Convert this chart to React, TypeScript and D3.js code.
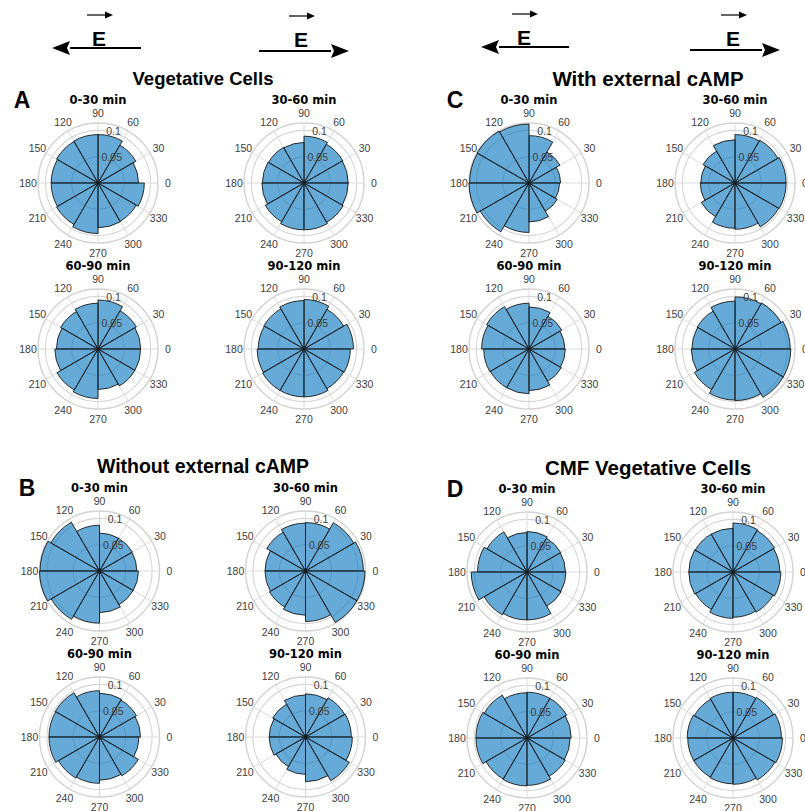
import React from 'react';
import * as d3 from 'd3';

// 12 bins of 30 deg, counter-clockwise from 0 deg
const angleTicks = [0, 30, 60, 90, 120, 150, 180, 210, 240, 270, 300, 330];
const rTicks = [0.05, 0.1];
const rMax = 0.114;
const intervals = ['0-30 min', '30-60 min', '60-90 min', '90-120 min'];

const vegetative = [
  [0.077, 0.083, 0.092, 0.092, 0.091, 0.089, 0.089, 0.091, 0.096, 0.085, 0.084, 0.088],
  [0.084, 0.085, 0.089, 0.077, 0.078, 0.079, 0.080, 0.085, 0.089, 0.089, 0.086, 0.084],
  [0.081, 0.084, 0.093, 0.087, 0.082, 0.079, 0.082, 0.090, 0.094, 0.077, 0.081, 0.081],
  [0.094, 0.087, 0.094, 0.092, 0.088, 0.087, 0.089, 0.091, 0.091, 0.091, 0.087, 0.088],
];

const withCamp = [
  [0.060, 0.068, 0.090, 0.112, 0.114, 0.113, 0.114, 0.107, 0.094, 0.074, 0.062, 0.058],
  [0.097, 0.094, 0.092, 0.082, 0.070, 0.065, 0.066, 0.074, 0.086, 0.088, 0.096, 0.097],
  [0.068, 0.072, 0.080, 0.087, 0.093, 0.090, 0.086, 0.085, 0.085, 0.079, 0.071, 0.069],
  [0.105, 0.101, 0.099, 0.091, 0.083, 0.082, 0.083, 0.089, 0.097, 0.098, 0.106, 0.106],
];

const withoutCamp = [
  [0.071, 0.072, 0.072, 0.087, 0.107, 0.113, 0.114, 0.106, 0.099, 0.079, 0.074, 0.074],
  [0.110, 0.106, 0.092, 0.091, 0.085, 0.077, 0.077, 0.079, 0.084, 0.096, 0.113, 0.113],
  [0.078, 0.081, 0.083, 0.088, 0.097, 0.096, 0.096, 0.090, 0.088, 0.082, 0.085, 0.075],
  [0.087, 0.086, 0.082, 0.080, 0.072, 0.069, 0.069, 0.065, 0.071, 0.085, 0.096, 0.089],
];

const cmfVegetative = [
  [0.073, 0.074, 0.077, 0.075, 0.088, 0.094, 0.106, 0.094, 0.091, 0.091, 0.075, 0.074],
  [0.089, 0.091, 0.093, 0.083, 0.083, 0.084, 0.084, 0.082, 0.088, 0.086, 0.088, 0.091],
  [0.084, 0.087, 0.087, 0.086, 0.094, 0.097, 0.097, 0.090, 0.091, 0.090, 0.084, 0.082],
  [0.092, 0.089, 0.087, 0.087, 0.085, 0.087, 0.086, 0.086, 0.087, 0.088, 0.092, 0.094],
];

const groups = [
  { title: 'Vegetative Cells', letter: 'A', data: vegetative, x: 98, y: 183, lx: 22, tx: 203, fs: 18.5 },
  { title: 'With external cAMP', letter: 'C', data: withCamp, x: 529, y: 183, lx: 455, tx: 648, fs: 20.5 },
  { title: 'Without external cAMP', letter: 'B', data: withoutCamp, x: 99.5, y: 571, lx: 27, tx: 203, fs: 19.5 },
  { title: 'CMF Vegetative Cells', letter: 'D', data: cmfVegetative, x: 527, y: 572, lx: 455, tx: 648, fs: 20.5 },
];

const r = d3.scaleLinear().domain([0, rMax]).range([0, 60]);
const arc = d3.arc<any>();
const rad = (deg: number) => (deg * Math.PI) / 180;

const tickFont = '"Liberation Sans", Arial, sans-serif';

function Rose({ cx, cy, values, title }: { cx: number; cy: number; values: number[]; title: string }) {
  const outer = r(rMax);
  return (
    <g transform={`translate(${cx},${cy})`}>
      <text
        y={-83}
        textAnchor="middle"
        dominantBaseline="central"
        fontFamily='"DejaVu Sans", sans-serif'
        fontWeight="bold"
        fontSize={11.5}
        fill="#000"
      >
        {title}
      </text>
      {angleTicks.map(a => (
        <line
          key={'g' + a}
          x1={0}
          y1={0}
          x2={outer * Math.cos(rad(a))}
          y2={-outer * Math.sin(rad(a))}
          stroke="#dcdcdc"
          strokeWidth={1}
        />
      ))}
      {rTicks.map(t => (
        <circle key={'c' + t} r={r(t)} fill="none" stroke="#d6d6d6" strokeWidth={1.1} />
      ))}
      <circle r={outer} fill="none" stroke="#d3d3d3" strokeWidth={1.4} />
      {values.map((v, i) => (
        <path
          key={'b' + i}
          d={
            arc({
              innerRadius: 0,
              outerRadius: r(v),
              startAngle: rad(90 - (i + 1) * 30),
              endAngle: rad(90 - i * 30),
            }) as string
          }
          fill="#0072bd"
          fillOpacity={0.6}
          stroke="#1a1a1a"
          strokeWidth={0.9}
        />
      ))}
      {angleTicks.map(a => (
        <text
          key={'l' + a}
          x={(outer + 10) * Math.cos(rad(a))}
          y={-(outer + 10) * Math.sin(rad(a))}
          textAnchor="middle"
          dominantBaseline="central"
          fontFamily={tickFont}
          fontSize={10.5}
          fill="#404040"
        >
          {a}
        </text>
      ))}
      {rTicks.map(t => (
        <text
          key={'t' + t}
          x={r(t) * Math.cos(rad(80)) - 1}
          y={-r(t) * Math.sin(rad(80))}
          dominantBaseline="central"
          fontFamily={tickFont}
          fontSize={10.5}
          fill="#404040"
        >
          {t}
        </text>
      ))}
    </g>
  );
}

function FieldArrow({ tail, tip, y }: { tail: number; tip: number; y: number }) {
  const dir = tip > tail ? 1 : -1;
  const headLen = 18;
  const base = tip - dir * headLen;
  return (
    <g>
      <line x1={tail} y1={y} x2={base} y2={y} stroke="#000" strokeWidth={2.2} />
      <path d={`M${tip},${y} L${base},${y - 7} L${base + dir * 3},${y} L${base},${y + 7} Z`} fill="#000" />
    </g>
  );
}

function Field({ tail, tip, y, ex, ey }: { tail: number; tip: number; y: number; ex: number; ey: number }) {
  const ay = ey - 31;
  return (
    <g>
      <FieldArrow tail={tail} tip={tip} y={y} />
      <text
        x={ex}
        y={ey}
        textAnchor="middle"
        fontFamily={tickFont}
        fontWeight="bold"
        fontSize={21}
        fill="#000"
      >
        E
      </text>
      <line x1={ex - 12} y1={ay} x2={ex + 8} y2={ay} stroke="#000" strokeWidth={1.2} />
      <path d={`M${ex + 14},${ay} L${ex + 6},${ay - 3.5} L${ex + 6},${ay + 3.5} Z`} fill="#000" />
    </g>
  );
}

export default function App() {
  return (
    <div style={{ position: 'absolute', left: 0, top: 0 }}>
      <svg width={805} height={811} style={{ display: 'block', background: '#fff' }}>
        <Field tail={141} tip={52} y={48} ex={99} ey={46} />
        <Field tail={259} tip={349} y={51} ex={301} ey={47} />
        <Field tail={569} tip={481} y={47} ex={524} ey={45} />
        <Field tail={690} tip={780} y={50} ex={733} ey={46} />
        {groups.map(g => (
          <g key={g.letter}>
            <text
              x={g.tx}
              y={g.y - 105}
              textAnchor="middle"
              dominantBaseline="central"
              fontFamily={tickFont}
              fontWeight="bold"
              fontSize={g.fs}
              fill="#000"
            >
              {g.title}
            </text>
            <text
              x={g.lx}
              y={g.y - 83}
              textAnchor="middle"
              dominantBaseline="central"
              fontFamily={tickFont}
              fontWeight="bold"
              fontSize={23}
              fill="#000"
            >
              {g.letter}
            </text>
            {g.data.map((vals, k) => (
              <Rose
                key={k}
                cx={g.x + (k % 2) * 206}
                cy={g.y + Math.floor(k / 2) * 166}
                values={vals}
                title={intervals[k]}
              />
            ))}
          </g>
        ))}
      </svg>
    </div>
  );
}
